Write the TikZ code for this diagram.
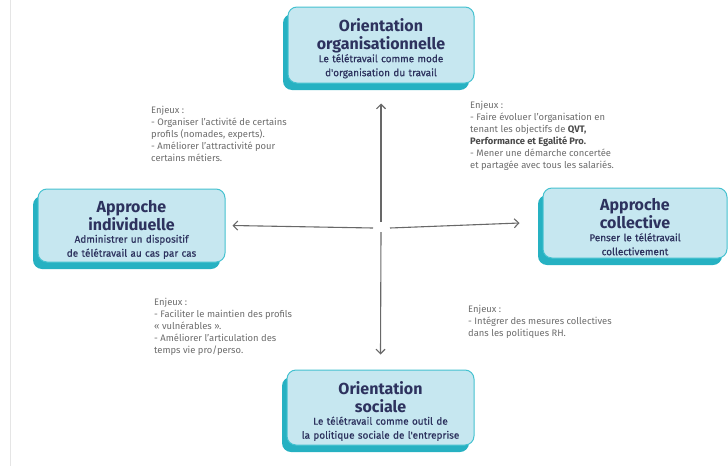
\documentclass[tikz,border=0pt]{standalone}
\usepackage{fontspec}
\setmainfont{Fira Sans}
\newfontfamily\subfont{Fira Sans}[FakeBold=0.6]
\usetikzlibrary{arrows.meta,shadows}
\definecolor{boxfill}{HTML}{C6E7F0}
\definecolor{boxline}{HTML}{45C2D0}
\definecolor{boxshade}{HTML}{26B1C2}
\definecolor{navy}{HTML}{2D325E}
\definecolor{notegray}{HTML}{6C6C6C}
\definecolor{notedark}{HTML}{4A4A4A}
\definecolor{axisgray}{HTML}{686868}

\newcommand{\boxtitle}[1]{{\fontsize{16}{18}\selectfont\bfseries\rule{0pt}{20pt}#1\par}\vspace{-1.5pt}}
\newcommand{\boxsub}[1]{{\subfont\fontsize{10}{14}\selectfont #1\par}}

\tikzset{
  axebox/.style={draw=boxline, line width=1pt, fill=boxfill, rounded corners=9pt,
    general shadow={fill=boxshade, shadow xshift=-5pt, shadow yshift=-7pt},
    text width=180pt, align=center, text=navy, inner xsep=2pt, inner ysep=2pt},
  note/.style={anchor=north west, inner sep=0pt, align=left, text=notegray,
    font=\fontsize{9.4}{12}\selectfont},
  axis/.style={draw=axisgray, line width=1.1pt, -{Straight Barb[length=4.5pt,width=9pt]}},
}

\begin{document}
\begin{tikzpicture}[x=1pt, y=-1pt]
  \useasboundingbox (0,0) rectangle (728,466);
  \draw[gray!20, line width=0.6pt] (10.5,0) -- (10.5,466);

  % the four orientations
  \node[axebox, minimum width=186pt, minimum height=76pt] (orga) at (381,45) {
    \boxtitle{Orientation\\organisationnelle}
    \boxsub{Le télétravail comme mode\\d'organisation du travail}
  };
  \node[axebox, minimum width=187pt, minimum height=73pt] (indiv) at (131.5,225.5) {
    \boxtitle{Approche\\individuelle}
    \boxsub{Administrer un dispositif\\de télétravail au cas par cas}
  };
  \node[axebox, minimum width=184pt, minimum height=70pt] (coll) at (635,223) {
    \boxtitle{Approche\\collective}
    \boxsub{Penser le télétravail\\collectivement}
  };
  \node[axebox, minimum width=187pt, minimum height=75pt] (soc) at (380.5,407.5) {
    \boxtitle{Orientation\\sociale}
    \boxsub{Le télétravail comme outil de\\la politique sociale de l'entreprise}
  };

  % axes
  \coordinate (ctr) at (381,228);
  \draw[axis] ([yshift=6pt]ctr) -- ([yshift=-20pt]orga.south);
  \draw[axis] ([yshift=-4pt]ctr) -- ([yshift=15pt]soc.north);
  \draw[axis] ([xshift=-8pt]ctr) -- ([xshift=7pt]indiv.east);
  \draw[axis] ([xshift=9pt]ctr) -- ([xshift=-23pt]coll.west);

  % enjeux
  \node[note] (enjTL) at (151,106) {Enjeux :\\- Organiser l'activité de certains\\profils (nomades, experts).\\- Améliorer l'attractivité pour\\certains métiers.};
  \node[note] (enjTR) at (470,101) {Enjeux :\\- Faire évoluer l'organisation en\\tenant les objectifs de {\color{notedark}\bfseries QVT,}\\{\color{notedark}\bfseries Performance et Egalité Pro.}\\- Mener une démarche concertée\\et partagée avec tous les salariés.};
  \node[note] (enjBL) at (154,298) {Enjeux :\\- Faciliter le maintien des profils\\«~vulnérables~».\\- Améliorer l'articulation des\\temps vie pro/perso.};
  \node[note] (enjBR) at (468,305) {Enjeux :\\- Intégrer des mesures collectives\\dans les politiques RH.};
\end{tikzpicture}
\end{document}
